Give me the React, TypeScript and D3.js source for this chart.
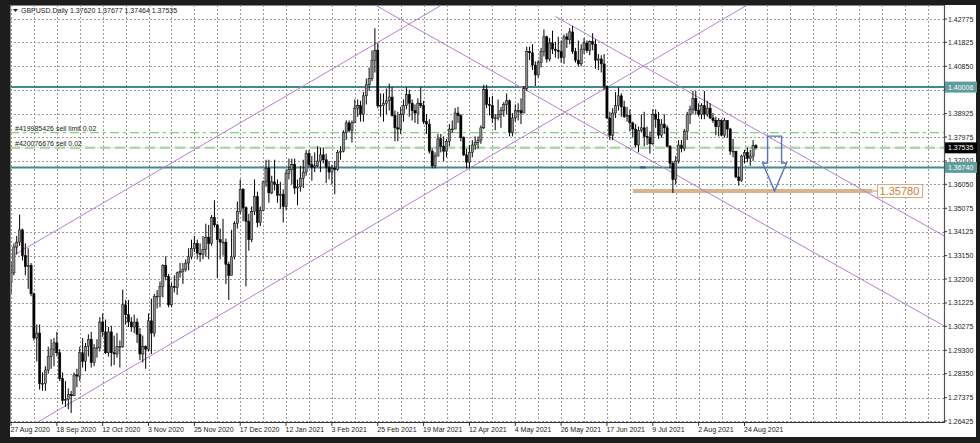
import React from "react";
import * as d3 from "d3";

const W = 980;
const H = 443;

// ---- data ----
const symbolTitle = "GBPUSD.Daily";
const titleOHLC = ["1.37620", "1.37677", "1.37464", "1.37535"];

const firstOpen = 1.3205;
const closes = [
  1.3245, 1.3350, 1.3370, 1.3420, 1.3315, 1.3270, 1.3275, 1.3160, 1.2980, 1.3000,
  1.2795, 1.2795, 1.2850, 1.2905, 1.2935, 1.2960, 1.2920, 1.2815, 1.2725, 1.2730,
  1.2750, 1.2745, 1.2830, 1.2825, 1.2920, 1.2885, 1.2945, 1.2975, 1.2880, 1.2940,
  1.2940, 1.3045, 1.3005, 1.2920, 1.3005, 1.2920, 1.2915, 1.2945, 1.2945, 1.3115,
  1.3075, 1.3045, 1.3025, 1.3045, 1.2995, 1.2915, 1.2945, 1.2935, 1.3050, 1.3000,
  1.3150, 1.3150, 1.3190, 1.3275, 1.3230, 1.3115, 1.3190, 1.3185, 1.3245, 1.3250,
  1.3260, 1.3285, 1.3310, 1.3345, 1.3365, 1.3325, 1.3320, 1.3340, 1.3390, 1.3365,
  1.3470, 1.3440, 1.3380, 1.3370, 1.3370, 1.3280, 1.3235, 1.3310, 1.3445, 1.3495,
  1.3585, 1.3510, 1.3455, 1.3380, 1.3495, 1.3555, 1.3450, 1.3500, 1.3615, 1.3670,
  1.3570, 1.3615, 1.3605, 1.3560, 1.3565, 1.3515, 1.3650, 1.3665, 1.3685, 1.3590,
  1.3595, 1.3630, 1.3655, 1.3730, 1.3685, 1.3675, 1.3680, 1.3700, 1.3725, 1.3705,
  1.3675, 1.3655, 1.3670, 1.3665, 1.3735, 1.3740, 1.3815, 1.3855, 1.3825, 1.3855,
  1.3915, 1.3925, 1.3890, 1.3965, 1.4010, 1.4035, 1.4110, 1.4150, 1.3925, 1.3925,
  1.3935, 1.3945, 1.3960, 1.3885, 1.3835, 1.3830, 1.3890, 1.3925, 1.3970, 1.3935,
  1.3905, 1.3895, 1.3935, 1.3925, 1.3860, 1.3850, 1.3740, 1.3680, 1.3720, 1.3790,
  1.3760, 1.3740, 1.3780, 1.3830, 1.3830, 1.3895, 1.3885, 1.3795, 1.3725, 1.3695,
  1.3735, 1.3765, 1.3775, 1.3785, 1.3835, 1.3990, 1.3930, 1.3925, 1.3875, 1.3875,
  1.3890, 1.3905, 1.3930, 1.3945, 1.3815, 1.3875, 1.3905, 1.3905, 1.3895, 1.3995,
  1.4145, 1.4140, 1.4090, 1.4050, 1.4100, 1.4145, 1.4205, 1.4115, 1.4180, 1.4155,
  1.4150, 1.4145, 1.4120, 1.4205, 1.4195, 1.4225, 1.4145, 1.4110, 1.4095, 1.4155,
  1.4180, 1.4150, 1.4185, 1.4175, 1.4110, 1.4115, 1.4095, 1.4005, 1.3875, 1.3805,
  1.3895, 1.3925, 1.3965, 1.3920, 1.3880, 1.3885, 1.3855, 1.3830, 1.3765, 1.3825,
  1.3835, 1.3800, 1.3795, 1.3770, 1.3890, 1.3870, 1.3805, 1.3850, 1.3835, 1.3760,
  1.3690, 1.3625, 1.3700, 1.3765, 1.3750, 1.3820, 1.3890, 1.3910, 1.3955, 1.3905,
  1.3890, 1.3925, 1.3890, 1.3915, 1.3875, 1.3865, 1.3840, 1.3865, 1.3805, 1.3865,
  1.3830, 1.3740, 1.3740, 1.3635, 1.3620, 1.3720, 1.3735, 1.3710, 1.3720, 1.3762,
  1.37535,
];
const highs = [
  1.3290, 1.3365, 1.3395, 1.3482, 1.3425, 1.3365, 1.3345, 1.3285, 1.3165, 1.3035,
  1.3035, 1.2840, 1.2865, 1.2945, 1.2975, 1.2980, 1.3005, 1.2935, 1.2840, 1.2805,
  1.2775, 1.2765, 1.2840, 1.2855, 1.2945, 1.2980, 1.2960, 1.2995, 1.3005, 1.2955,
  1.2975, 1.3065, 1.3080, 1.3055, 1.3025, 1.3030, 1.2990, 1.3000, 1.2970, 1.3177,
  1.3135, 1.3135, 1.3065, 1.3075, 1.3060, 1.3020, 1.2990, 1.2950, 1.3080, 1.3140,
  1.3160, 1.3175, 1.3210, 1.3280, 1.3312, 1.3240, 1.3205, 1.3235, 1.3250, 1.3285,
  1.3285, 1.3300, 1.3345, 1.3380, 1.3395, 1.3380, 1.3365, 1.3395, 1.3445, 1.3440,
  1.3480, 1.3540, 1.3445, 1.3425, 1.3465, 1.3385, 1.3290, 1.3420, 1.3455, 1.3535,
  1.3625, 1.3590, 1.3515, 1.3485, 1.3515, 1.3625, 1.3575, 1.3515, 1.3620, 1.3705,
  1.3705, 1.3640, 1.3705, 1.3625, 1.3615, 1.3585, 1.3665, 1.3710, 1.3710, 1.3710,
  1.3625, 1.3680, 1.3705, 1.3745, 1.3745, 1.3720, 1.3735, 1.3760, 1.3755, 1.3755,
  1.3730, 1.3700, 1.3685, 1.3700, 1.3745, 1.3760, 1.3825, 1.3865, 1.3865, 1.3865,
  1.3950, 1.3950, 1.3945, 1.3980, 1.4035, 1.4080, 1.4150, 1.4240, 1.4180, 1.3975,
  1.3975, 1.3995, 1.4015, 1.4000, 1.3905, 1.3900, 1.3920, 1.3950, 1.4000, 1.3990,
  1.3950, 1.3930, 1.3955, 1.4000, 1.3945, 1.3890, 1.3870, 1.3750, 1.3735, 1.3810,
  1.3810, 1.3800, 1.3790, 1.3850, 1.3865, 1.3915, 1.3920, 1.3890, 1.3800, 1.3750,
  1.3765, 1.3785, 1.3800, 1.3800, 1.3845, 1.4010, 1.4010, 1.3960, 1.3965, 1.3890,
  1.3950, 1.3920, 1.3940, 1.3975, 1.3950, 1.3895, 1.3930, 1.3935, 1.3955, 1.4005,
  1.4165, 1.4165, 1.4175, 1.4105, 1.4110, 1.4160, 1.4235, 1.4210, 1.4200, 1.4230,
  1.4185, 1.4205, 1.4190, 1.4215, 1.4220, 1.4240, 1.4250, 1.4160, 1.4190, 1.4175,
  1.4200, 1.4190, 1.4190, 1.4220, 1.4195, 1.4135, 1.4130, 1.4135, 1.3995, 1.3900,
  1.3915, 1.3980, 1.4000, 1.3975, 1.3945, 1.3920, 1.3910, 1.3860, 1.3850, 1.3840,
  1.3890, 1.3900, 1.3840, 1.3820, 1.3910, 1.3910, 1.3900, 1.3870, 1.3890, 1.3845,
  1.3765, 1.3700, 1.3720, 1.3785, 1.3785, 1.3830, 1.3900, 1.3925, 1.3985, 1.3985,
  1.3935, 1.3935, 1.3985, 1.3945, 1.3935, 1.3895, 1.3880, 1.3875, 1.3870, 1.3875,
  1.3865, 1.3835, 1.3790, 1.3740, 1.3675, 1.3725, 1.3745, 1.3755, 1.3745, 1.3785,
  1.37677,
];
const lows = [
  1.3160, 1.3235, 1.3320, 1.3355, 1.3295, 1.3235, 1.3180, 1.3150, 1.2970, 1.2885,
  1.2770, 1.2765, 1.2765, 1.2835, 1.2855, 1.2865, 1.2905, 1.2805, 1.2710, 1.2700,
  1.2690, 1.2675, 1.2745, 1.2780, 1.2805, 1.2860, 1.2845, 1.2905, 1.2860, 1.2865,
  1.2900, 1.2925, 1.2985, 1.2915, 1.2905, 1.2865, 1.2870, 1.2900, 1.2860, 1.2940,
  1.3035, 1.3025, 1.3005, 1.3000, 1.2960, 1.2890, 1.2880, 1.2855, 1.2925, 1.2915,
  1.2985, 1.3100, 1.3105, 1.3145, 1.3215, 1.3105, 1.3105, 1.3165, 1.3155, 1.3225,
  1.3200, 1.3250, 1.3255, 1.3300, 1.3330, 1.3300, 1.3290, 1.3300, 1.3310, 1.3300,
  1.3355, 1.3430, 1.3225, 1.3300, 1.3315, 1.3200, 1.3135, 1.3280, 1.3300, 1.3425,
  1.3485, 1.3455, 1.3190, 1.3335, 1.3370, 1.3480, 1.3430, 1.3435, 1.3495, 1.3595,
  1.3530, 1.3565, 1.3580, 1.3530, 1.3505, 1.3450, 1.3500, 1.3625, 1.3605, 1.3565,
  1.3520, 1.3575, 1.3590, 1.3640, 1.3675, 1.3620, 1.3655, 1.3675, 1.3655, 1.3690,
  1.3610, 1.3625, 1.3605, 1.3565, 1.3660, 1.3705, 1.3735, 1.3785, 1.3815, 1.3775,
  1.3860, 1.3880, 1.3860, 1.3860, 1.3930, 1.3985, 1.4025, 1.4060, 1.3915, 1.3880,
  1.3860, 1.3890, 1.3905, 1.3880, 1.3780, 1.3780, 1.3810, 1.3860, 1.3910, 1.3880,
  1.3865, 1.3855, 1.3850, 1.3915, 1.3850, 1.3810, 1.3730, 1.3670, 1.3670, 1.3725,
  1.3735, 1.3700, 1.3715, 1.3760, 1.3815, 1.3835, 1.3855, 1.3780, 1.3720, 1.3670,
  1.3670, 1.3715, 1.3745, 1.3750, 1.3770, 1.3830, 1.3915, 1.3885, 1.3855, 1.3825,
  1.3865, 1.3835, 1.3880, 1.3890, 1.3800, 1.3800, 1.3860, 1.3865, 1.3850, 1.3895,
  1.3985, 1.4110, 1.4070, 1.4005, 1.4040, 1.4080, 1.4125, 1.4100, 1.4105, 1.4135,
  1.4120, 1.4115, 1.4100, 1.4095, 1.4160, 1.4175, 1.4135, 1.4100, 1.4085, 1.4085,
  1.4135, 1.4140, 1.4130, 1.4150, 1.4075, 1.4070, 1.4060, 1.3990, 1.3870, 1.3785,
  1.3785, 1.3875, 1.3905, 1.3880, 1.3875, 1.3860, 1.3820, 1.3795, 1.3755, 1.3735,
  1.3815, 1.3760, 1.3765, 1.3730, 1.3765, 1.3835, 1.3790, 1.3795, 1.3810, 1.3755,
  1.3670, 1.3570, 1.3605, 1.3690, 1.3735, 1.3740, 1.3785, 1.3850, 1.3890, 1.3890,
  1.3880, 1.3870, 1.3870, 1.3880, 1.3870, 1.3855, 1.3805, 1.3800, 1.3800, 1.3795,
  1.3795, 1.3725, 1.3715, 1.3630, 1.3600, 1.3615, 1.3690, 1.3695, 1.3680, 1.3700,
  1.37464,
];

const priceTicks = [
  1.26425, 1.27375, 1.2835, 1.293, 1.30275, 1.31225, 1.322, 1.3315, 1.34125,
  1.35075, 1.3605, 1.37, 1.37975, 1.38925, 1.399, 1.4085, 1.41825, 1.42775,
];
const priceTickLabels = [
  "1.26425", "1.27375", "1.28350", "1.29300", "1.30275", "1.31225", "1.32200",
  "1.33150", "1.34125", "1.35075", "1.36050", "1.37000", "1.37975", "1.38925",
  "1.39900", "1.40850", "1.41825", "1.42775",
];
const dateLabels = [
  "27 Aug 2020", "18 Sep 2020", "12 Oct 2020", "3 Nov 2020", "25 Nov 2020",
  "17 Dec 2020", "12 Jan 2021", "3 Feb 2021", "25 Feb 2021", "19 Mar 2021",
  "12 Apr 2021", "4 May 2021", "26 May 2021", "17 Jun 2021", "9 Jul 2021",
  "2 Aug 2021", "24 Aug 2021",
];
const barsPerDateLabel = 16;
const barsPerGridLine = 8;

// horizontal levels
const levelPrices = [1.40006, 1.3674];
const levelLabels = ["1.40006", "1.36740"];
const sellLimitPrice = 1.3815;
const sellPrice = 1.3754;
const bidPrice = 1.37535;
const orderTexts = ["#419985426 sell limit 0.02", "#420076676 sell 0.02"];
const targetPrice = 1.3578;
const targetLabel = "1.35780";
const targetBars = [217, 300.7];

// trend lines: two anchors [bar, price] each, plus the bar the ray starts at
const trendA = [[0, 1.3310], [9.4, 1.26384], [136.4, 1.42733], [192.2, 1.42733]];
const trendB = [[141.3, 1.4273], [240.3, 1.42205], [325.1, 1.30329], [325.1, 1.3399]];
const trendStart = [-10, -10, -10, 190];

// arrow annotation (bar, prices)
const arrowBar = 266.5;
const arrowPrices = [1.3801, 1.3692, 1.3578];
const tradeMark = [220.5, 1.3674];

// ---- layout ----
const plotLeft = 10;
const plotRight = 944;
const plotTop = 5;
const plotBottom = 422;

export default function App() {
  const nBars = closes.length;
  const x = d3.scaleLinear().domain([0, 256]).range([11, 744.5]);
  const y = d3.scaleLinear().domain([1.26425, 1.42775]).range([421, 19]);

  const opens = closes.map((c, i) => (i === 0 ? firstOpen : closes[i - 1]));
  opens[nBars - 1] = 1.3762;

  const maxGridBar = Math.floor(x.invert(plotRight));
  const gridBars = d3.range(0, maxGridBar + 1, barsPerGridLine);

  const font = "'Liberation Sans', Arial, sans-serif";

  const trendPath = (k: number) => {
    const [b1, p1] = trendA[k];
    const [b2, p2] = trendB[k];
    const x1 = x(b1), y1 = y(p1), x2 = x(b2), y2 = y(p2);
    const m = (y2 - y1) / (x2 - x1);
    const xs = Math.max(plotLeft, x(trendStart[k]));
    const xe = plotRight;
    return `M${xs},${y1 + m * (xs - x1)}L${xe},${y1 + m * (xe - x1)}`;
  };

  const bw = 2.2;
  const ax = x(arrowBar);
  const [aTop, aNeck, aTip] = arrowPrices.map((p) => y(p));

  return (
    <div style={{ position: "absolute", left: 0, top: 0 }}>
      <svg width={W} height={H} style={{ display: "block" }}>
        <rect x={0} y={0} width={W} height={H} fill="#1d1d1d" />
        <rect x={plotLeft} y={plotTop} width={976 - plotLeft} height={437 - plotTop} fill="#ffffff" />
        <defs>
          <clipPath id="plotclip">
            <rect x={plotLeft} y={plotTop} width={plotRight - plotLeft} height={plotBottom - plotTop} />
          </clipPath>
        </defs>

        {/* grid */}
        <g stroke="#9a9a9a" strokeWidth={1} strokeDasharray="2,2" shapeRendering="crispEdges">
          {priceTicks.map((p, i) => (
            <line key={"h" + i} x1={plotLeft} x2={plotRight} y1={Math.round(y(p)) + 0.5} y2={Math.round(y(p)) + 0.5} />
          ))}
          {gridBars.map((b) => (
            <line key={"v" + b} x1={Math.round(x(b)) + 0.5} x2={Math.round(x(b)) + 0.5} y1={plotTop} y2={plotBottom} />
          ))}
        </g>

        <g clipPath="url(#plotclip)">
          {/* order lines */}
          <line x1={plotLeft} x2={plotRight} y1={y(sellLimitPrice)} y2={y(sellLimitPrice)} stroke="#7fcf7f" strokeWidth={1.3} strokeDasharray="9,4,3,4" />
          <line x1={plotLeft} x2={plotRight} y1={y(sellPrice)} y2={y(sellPrice)} stroke="#a8dca8" strokeWidth={2.5} strokeDasharray="10,5" />
          <line x1={plotLeft} x2={plotRight} y1={y(bidPrice)} y2={y(bidPrice)} stroke="#c8c8c8" strokeWidth={0.6} />

          {/* level lines */}
          {levelPrices.map((p, i) => (
            <line key={"l" + i} x1={plotLeft} x2={plotRight} y1={y(p)} y2={y(p)} stroke="#44898c" strokeWidth={2} />
          ))}

          {/* target line */}
          <line x1={x(targetBars[0])} x2={x(targetBars[1])} y1={y(targetPrice)} y2={y(targetPrice)} stroke="#d8b48c" strokeWidth={4} />
          <line x1={x(targetBars[1])} x2={x(targetBars[1]) + 5} y1={y(targetPrice)} y2={y(targetPrice)} stroke="#d08a50" strokeWidth={1} />

          {/* trend lines */}
          {trendA.map((_, k) => (
            <path key={"t" + k} d={trendPath(k)} stroke="#b57fd0" strokeWidth={1} fill="none" />
          ))}

          {/* candles */}
          {closes.map((c, i) => {
            const o = opens[i];
            const hi = Math.max(highs[i], o, c);
            const lo = Math.min(lows[i], o, c);
            const cx = x(i);
            const up = c >= o;
            const top = y(Math.max(o, c));
            const bot = y(Math.min(o, c));
            return (
              <g key={"c" + i}>
                <line x1={cx} x2={cx} y1={y(hi)} y2={y(lo)} stroke="#000" strokeWidth={1} />
                <rect
                  x={cx - bw / 2}
                  y={top}
                  width={bw}
                  height={Math.max(0.8, bot - top)}
                  fill={up ? "#8e8e8e" : "#000"}
                  stroke="#000"
                  strokeWidth={0.5}
                />
              </g>
            );
          })}

          {/* trade mark */}
          <rect x={x(tradeMark[0]) - 3} y={y(tradeMark[1]) - 1} width={6} height={2} fill="#2a4fa0" />

          {/* arrow */}
          <path
            d={`M${ax - 7},${aTop}L${ax + 7},${aTop}L${ax + 7},${aNeck}L${ax + 12},${aNeck}L${ax},${aTip}L${ax - 12},${aNeck}L${ax - 7},${aNeck}Z`}
            fill="none"
            stroke="#5b70b8"
            strokeWidth={1.4}
          />
        </g>

        {/* order texts */}
        <text x={15} y={y(sellLimitPrice) - 2} fontFamily={font} fontSize={7} fill="#222">{orderTexts[0]}</text>
        <text x={15} y={y(sellPrice) - 2} fontFamily={font} fontSize={7} fill="#222">{orderTexts[1]}</text>

        {/* target label */}
        <rect x={x(targetBars[1]) + 5} y={y(targetPrice) - 6.5} width={45} height={13} fill="#fff" stroke="#d8a878" strokeWidth={1} />
        <text x={x(targetBars[1]) + 7} y={y(targetPrice) + 4} fontFamily={font} fontSize={11} fill="#c98040">{targetLabel}</text>

        {/* frame */}
        <rect x={plotLeft + 0.5} y={plotTop + 0.5} width={plotRight - plotLeft} height={plotBottom - plotTop} fill="none" stroke="#8a8a8a" strokeWidth={1} />
        <line x1={plotRight + 0.5} x2={plotRight + 0.5} y1={plotTop} y2={plotBottom + 1} stroke="#555" strokeWidth={1.2} />
        <line x1={plotLeft} x2={plotRight + 1} y1={plotBottom + 0.5} y2={plotBottom + 0.5} stroke="#333" strokeWidth={1} />

        {/* right axis */}
        {priceTicks.map((p, i) => (
          <g key={"pl" + i}>
            <line x1={plotRight} x2={plotRight + 3} y1={y(p)} y2={y(p)} stroke="#333" />
            <text x={948} y={y(p) + 2.5} fontFamily={font} fontSize={7} fill="#222">{priceTickLabels[i]}</text>
          </g>
        ))}
        {levelPrices.map((p, i) => (
          <g key={"lb" + i}>
            <rect x={945} y={y(p) - 5.5} width={32} height={11} fill="#5f9c9d" />
            <text x={948} y={y(p) + 2.5} fontFamily={font} fontSize={7} fill="#fff">{levelLabels[i]}</text>
          </g>
        ))}
        <rect x={945} y={y(bidPrice) - 5.5} width={32} height={11} fill="#000" />
        <text x={948} y={y(bidPrice) + 2.5} fontFamily={font} fontSize={7} fill="#fff">{titleOHLC[3]}</text>

        {/* bottom axis */}
        {dateLabels.map((d, k) => {
          const bx = x(k * barsPerDateLabel);
          return (
            <g key={"d" + k}>
              <line x1={bx} x2={bx} y1={plotBottom} y2={plotBottom + 4} stroke="#333" />
              <text x={bx - 0.5} y={432} fontFamily={font} fontSize={7} fill="#222">{d}</text>
            </g>
          );
        })}

        {/* title */}
        <path d="M13,9L18,9L15.5,12Z" fill="#222" />
        <text x={21} y={13} fontFamily={font} fontSize={7} fill="#222">
          {symbolTitle + "  " + titleOHLC.join(" ")}
        </text>
      </svg>
    </div>
  );
}
